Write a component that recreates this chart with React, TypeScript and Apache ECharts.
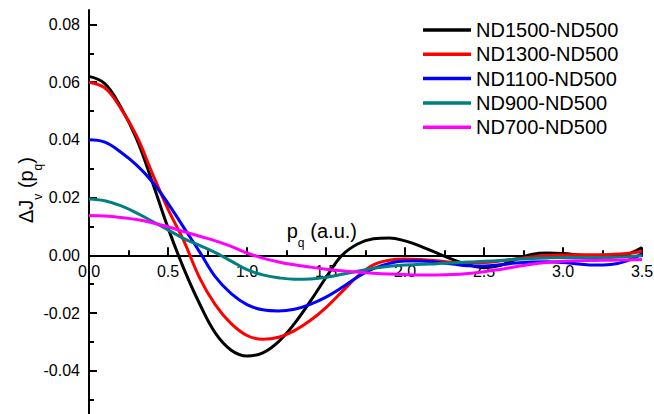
import React, { useEffect, useRef } from "react";
import * as echarts from "echarts";

const xs = [0.0, 0.1, 0.2, 0.3, 0.4, 0.5, 0.6, 0.7, 0.8, 0.9, 1.0, 1.1, 1.2, 1.3, 1.4, 1.5, 1.6, 1.7, 1.8, 1.9, 2.0, 2.1, 2.2, 2.3, 2.4, 2.5, 2.6, 2.7, 2.8, 2.9, 3.0, 3.1, 3.2, 3.3, 3.4, 3.5];

const nd1500 = [0.0620, 0.0595, 0.0515, 0.0405, 0.0255, 0.0095, -0.0046, -0.0168, -0.0270, -0.0329, -0.0349, -0.0338, -0.0299, -0.0237, -0.0160, -0.0077, -0.0001, 0.0039, 0.0057, 0.0060, 0.0050, 0.0031, 0.0008, -0.0014, -0.0033, -0.0043, -0.0036, -0.0014, 0.0003, 0.0008, 0.0006, 0.0001, -0.0004, -0.0006, 0.0002, 0.0027];
const nd1300 = [0.0600, 0.0580, 0.0510, 0.0415, 0.0285, 0.0160, 0.0050, -0.0078, -0.0172, -0.0237, -0.0278, -0.0291, -0.0284, -0.0261, -0.0226, -0.0181, -0.0127, -0.0073, -0.0033, -0.0017, -0.0013, -0.0015, -0.0019, -0.0024, -0.0026, -0.0025, -0.0020, -0.0013, -0.0006, -0.0001, 0.0001, 0.0002, 0.0002, 0.0003, 0.0006, 0.0013];
const nd1100 = [0.0400, 0.0392, 0.0358, 0.0313, 0.0255, 0.0180, 0.0096, 0.0012, -0.0075, -0.0133, -0.0171, -0.0189, -0.0193, -0.0187, -0.0170, -0.0145, -0.0112, -0.0075, -0.0046, -0.0028, -0.0020, -0.0020, -0.0024, -0.0030, -0.0036, -0.0037, -0.0033, -0.0027, -0.0023, -0.0022, -0.0025, -0.0030, -0.0034, -0.0032, -0.0020, 0.0005];
const nd900 = [0.0195, 0.0189, 0.0172, 0.0147, 0.0118, 0.0088, 0.0058, 0.0034, 0.0009, -0.0020, -0.0050, -0.0068, -0.0078, -0.0083, -0.0082, -0.0076, -0.0066, -0.0055, -0.0045, -0.0038, -0.0034, -0.0031, -0.0029, -0.0026, -0.0023, -0.0021, -0.0018, -0.0014, -0.0011, -0.0009, -0.0008, -0.0008, -0.0008, -0.0007, -0.0005, -0.0002];
const nd700 = [0.0138, 0.0136, 0.0131, 0.0124, 0.0113, 0.0099, 0.0082, 0.0066, 0.0050, 0.0031, 0.0008, -0.0010, -0.0023, -0.0033, -0.0041, -0.0048, -0.0054, -0.0058, -0.0062, -0.0065, -0.0067, -0.0068, -0.0068, -0.0067, -0.0063, -0.0057, -0.0049, -0.0040, -0.0031, -0.0025, -0.0021, -0.0019, -0.0018, -0.0017, -0.0016, -0.0015];

const seriesNames = ["ND1500-ND500", "ND1300-ND500", "ND1100-ND500", "ND900-ND500", "ND700-ND500"];
const seriesColors = ["#000000", "#ff0000", "#0000ff", "#008080", "#ff00ff"];
const seriesValues = [nd1500, nd1300, nd1100, nd900, nd700];

const yMajorTicks = [-0.04, -0.02, 0.0, 0.02, 0.04, 0.06, 0.08];
const yMinorTicks = [-0.05, -0.03, -0.01, 0.01, 0.03, 0.05, 0.07];

const Y_MIN = -0.055;
const Y_MAX = 0.085;

const FONT = "'Liberation Sans', Arial, sans-serif";

export default function App() {
  const ref = useRef<HTMLDivElement>(null);

  useEffect(() => {
    if (!ref.current) return;
    const chart = echarts.init(ref.current, undefined, { renderer: "svg" });

    const gridTop = 10;
    const gridBottom = 0;
    const totalH = 414;
    const plotH = totalH - gridTop - gridBottom;
    const zeroY = gridTop + (Y_MAX / (Y_MAX - Y_MIN)) * plotH;
    const xAxisOffset = -(totalH - gridBottom - zeroY);

    const series = seriesNames.map((name, i) => ({
      name,
      type: "line",
      data: xs.map((x, j) => [x, seriesValues[i][j]]),
      smooth: 0.4,
      symbol: "none",
      showSymbol: false,
      color: seriesColors[i],
      lineStyle: { color: seriesColors[i], width: 3 },
      yAxisIndex: 0,
      xAxisIndex: 0,
      z: 2 + i,
    }));

    const axisColor = "#000";

    chart.setOption({
      animation: false,
      backgroundColor: "#ffffff",
      grid: { left: 89, right: 12, top: gridTop, bottom: gridBottom, containLabel: false, outerBoundsMode: "none" },
      legend: {
        show: true,
        orient: "vertical",
        left: 423,
        top: 20,
        padding: 0,
        itemWidth: 48,
        itemHeight: 3.5,
        itemGap: 4.3,
        icon: "rect",
        selectedMode: false,
        textStyle: { fontSize: 20, color: "#000", fontFamily: FONT, padding: 0 },
        data: seriesNames,
      },
      xAxis: {
        type: "value",
        min: 0,
        max: 3.5,
        interval: 0.5,
        position: "bottom",
        offset: xAxisOffset,
        axisLine: { show: true, onZero: false, lineStyle: { color: axisColor, width: 2 } },
        axisTick: { show: true, inside: true, length: 8, lineStyle: { color: axisColor, width: 2 } },
        minorTick: { show: true, splitNumber: 2, length: 5, lineStyle: { color: axisColor, width: 2 } },
        axisLabel: {
          show: true,
          margin: 8,
          fontSize: 16,
          color: "#000",
          fontFamily: FONT,
          formatter: (v: number) => v.toFixed(1),
        },
        splitLine: { show: false },
        minorSplitLine: { show: false },
      },
      yAxis: [
        {
          type: "value",
          min: Y_MIN,
          max: Y_MAX,
          position: "left",
          axisLine: { show: true, onZero: false, lineStyle: { color: axisColor, width: 2 } },
          axisTick: { show: true, inside: true, length: 8, customValues: yMajorTicks, lineStyle: { color: axisColor, width: 2 } },
          axisLabel: {
            show: true,
            margin: 9,
            fontSize: 16,
            color: "#000",
            fontFamily: FONT,
            customValues: yMajorTicks,
            formatter: (v: number) => v.toFixed(2),
          },
          splitLine: { show: false },
        },
        {
          type: "value",
          min: Y_MIN,
          max: Y_MAX,
          position: "left",
          offset: 0,
          axisLine: { show: false, onZero: false },
          axisTick: { show: true, inside: true, length: 5, customValues: yMinorTicks, lineStyle: { color: axisColor, width: 2 } },
          axisLabel: { show: false },
          splitLine: { show: false },
        },
      ],
      graphic: [
        {
          type: "text",
          x: 286.7,
          y: 231.1,
          style: { text: "p", fontSize: 20, fontFamily: FONT, fill: "#000", align: "left", verticalAlign: "middle" },
        },
        {
          type: "text",
          x: 297.8,
          y: 243.3,
          style: { text: "q", fontSize: 12, fontFamily: FONT, fill: "#000", align: "left", verticalAlign: "middle" },
        },
        {
          type: "text",
          x: 310.3,
          y: 231.1,
          style: { text: "(a.u.)", fontSize: 20, fontFamily: FONT, fill: "#000", align: "left", verticalAlign: "middle" },
        },
        {
          type: "group",
          x: 26.1,
          y: 223,
          rotation: Math.PI / 2,
          children: [
            { type: "text", x: 0, y: 0, style: { text: "ΔJ", fontSize: 20, fontFamily: FONT, fill: "#000", align: "left", verticalAlign: "middle" } },
            { type: "text", x: 23.3, y: 12.2, style: { text: "v", fontSize: 12, fontFamily: FONT, fill: "#000", align: "left", verticalAlign: "middle" } },
            { type: "text", x: 34.9, y: 0, style: { text: "(p", fontSize: 20, fontFamily: FONT, fill: "#000", align: "left", verticalAlign: "middle" } },
            { type: "text", x: 52.6, y: 12.2, style: { text: "q", fontSize: 12, fontFamily: FONT, fill: "#000", align: "left", verticalAlign: "middle" } },
            { type: "text", x: 59.3, y: 0, style: { text: ")", fontSize: 20, fontFamily: FONT, fill: "#000", align: "left", verticalAlign: "middle" } },
          ],
        },
      ],
      series,
    });

    return () => {
      chart.dispose();
    };
  }, []);

  return (
    <div
      ref={ref}
      style={{ position: "fixed", left: 0, top: 0, width: 654, height: 414, background: "#fff" }}
    />
  );
}
